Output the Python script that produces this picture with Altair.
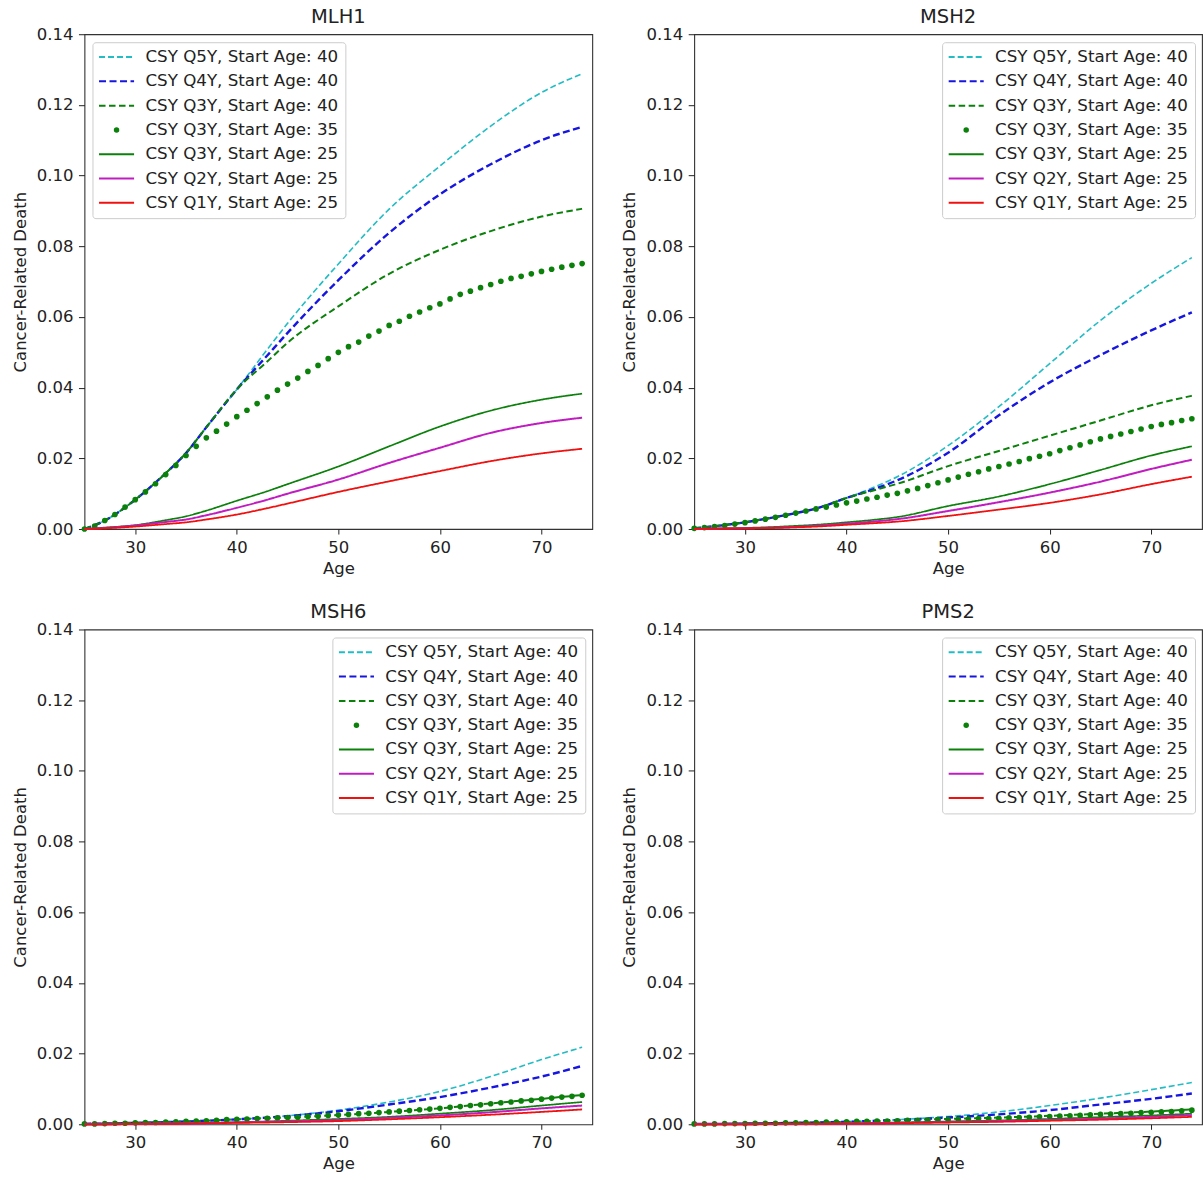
import altair as alt
import pandas as pd

GENES = ["MLH1", "MSH2", "MSH6", "PMS2"]
LEGEND_ORIENT = ["top-left", "top-right", "top-right", "top-right"]
SERIES = [
    "CSY Q5Y, Start Age: 40",
    "CSY Q4Y, Start Age: 40",
    "CSY Q3Y, Start Age: 40",
    "CSY Q3Y, Start Age: 35",
    "CSY Q3Y, Start Age: 25",
    "CSY Q2Y, Start Age: 25",
    "CSY Q1Y, Start Age: 25",
]
COLORS = ["#22bcc4", "#1616e0", "#0b800b", "#0b800b", "#0b800b", "#c01cc0", "#f01010"]
DASHES = [[6, 3], [7, 3.5], [6.5, 3.5], [1, 0], [1, 0], [1, 0], [1, 0]]
WIDTHS = [1.6, 2.4, 2.0, 0, 1.7, 2.0, 1.8]
DOT_INDEX = 3
LINE_SYMBOL = "M-6.4,0L6.4,0"

STROKES = [c if i != DOT_INDEX else "transparent" for i, c in enumerate(COLORS)]
FILLS = [c if i == DOT_INDEX else "transparent" for i, c in enumerate(COLORS)]
SHAPES = ["circle" if i == DOT_INDEX else LINE_SYMBOL for i in range(len(SERIES))]

X_TICKS = [30, 40, 50, 60, 70]
Y_TICKS = [0.0, 0.02, 0.04, 0.06, 0.08, 0.10, 0.12, 0.14]

LINE_AGES = [25, 27, 30, 33, 35, 37, 40, 43, 45, 50, 55, 60, 65, 70, 74]
DOT_AGES = list(range(25, 75))

# ---------------- MLH1 ----------------
MLH1_Q5Y_40 = [0, 0.0024, 0.0083, 0.0158, 0.0215, 0.0288, 0.0395, 0.0508, 0.0582, 0.0750, 0.0905, 0.1027, 0.1140, 0.1235, 0.1288]
MLH1_Q4Y_40 = [0, 0.0024, 0.0083, 0.0158, 0.0215, 0.0288, 0.0395, 0.0491, 0.0555, 0.0704, 0.0838, 0.0947, 0.1032, 0.1100, 0.1138]
MLH1_Q3Y_40 = [0, 0.0024, 0.0083, 0.0158, 0.0215, 0.0288, 0.0395, 0.0474, 0.0527, 0.0630, 0.0722, 0.0790, 0.0843, 0.0884, 0.0906]
MLH1_Q3Y_35 = [0.0000, 0.0008, 0.0024, 0.0041, 0.0062, 0.0083, 0.0105, 0.0128, 0.0154, 0.0180,
               0.0208, 0.0234, 0.0258, 0.0277, 0.0297, 0.0318, 0.0336, 0.0355, 0.0374, 0.0393,
               0.0410, 0.0427, 0.0446, 0.0463, 0.0482, 0.0500, 0.0516, 0.0529, 0.0546, 0.0560,
               0.0576, 0.0588, 0.0602, 0.0614, 0.0626, 0.0637, 0.0651, 0.0664, 0.0673, 0.0683,
               0.0692, 0.0701, 0.0709, 0.0715, 0.0722, 0.0729, 0.0735, 0.0741, 0.0746, 0.0751]
MLH1_Q3Y_25 = [0, 0.0004, 0.0011, 0.0025, 0.0036, 0.0052, 0.0080, 0.0107, 0.0127, 0.0177, 0.0234, 0.0290, 0.0335, 0.0366, 0.0383]
MLH1_Q2Y_25 = [0, 0.0003, 0.0010, 0.0020, 0.0027, 0.0039, 0.0060, 0.0083, 0.0100, 0.0140, 0.0187, 0.0230, 0.0272, 0.0300, 0.0315]
MLH1_Q1Y_25 = [0, 0.0002, 0.0007, 0.0014, 0.0019, 0.0027, 0.0041, 0.0059, 0.0072, 0.0105, 0.0135, 0.0164, 0.0192, 0.0214, 0.0227]

# ---------------- MSH2 ----------------
MSH2_Q5Y_40 = [0.0002, 0.0008, 0.0019, 0.0034, 0.0045, 0.0058, 0.0088, 0.0122, 0.0148, 0.0236, 0.0346, 0.0468, 0.0590, 0.0695, 0.0768]
MSH2_Q4Y_40 = [0.0002, 0.0008, 0.0019, 0.0034, 0.0045, 0.0058, 0.0088, 0.0116, 0.0138, 0.0216, 0.0322, 0.0415, 0.0492, 0.0562, 0.0613]
MSH2_Q3Y_40 = [0.0002, 0.0008, 0.0019, 0.0034, 0.0045, 0.0058, 0.0088, 0.0112, 0.0128, 0.0178, 0.0221, 0.0264, 0.0307, 0.0350, 0.0377]
MSH2_Q3Y_35 = [0.0002, 0.0004, 0.0007, 0.0010, 0.0014, 0.0018, 0.0023, 0.0028, 0.0033, 0.0039,
               0.0045, 0.0051, 0.0057, 0.0062, 0.0068, 0.0074, 0.0079, 0.0085, 0.0090, 0.0096,
               0.0101, 0.0108, 0.0115, 0.0123, 0.0131, 0.0139, 0.0147, 0.0155, 0.0162, 0.0170,
               0.0177, 0.0184, 0.0191, 0.0199, 0.0206, 0.0213, 0.0222, 0.0230, 0.0238, 0.0247,
               0.0255, 0.0262, 0.0269, 0.0276, 0.0283, 0.0290, 0.0296, 0.0301, 0.0307, 0.0312]
MSH2_Q3Y_25 = [0, 0.0001, 0.0003, 0.0006, 0.0009, 0.0012, 0.0019, 0.0027, 0.0034, 0.0065, 0.0092, 0.0127, 0.0167, 0.0208, 0.0234]
MSH2_Q2Y_25 = [0, 0.0001, 0.0002, 0.0004, 0.0006, 0.0009, 0.0015, 0.0022, 0.0028, 0.0051, 0.0076, 0.0103, 0.0134, 0.0170, 0.0196]
MSH2_Q1Y_25 = [0, 0.0001, 0.0002, 0.0003, 0.0005, 0.0007, 0.0012, 0.0017, 0.0021, 0.0037, 0.0055, 0.0074, 0.0098, 0.0127, 0.0148]

# ---------------- MSH6 ----------------
MSH6_Q5Y_40 = [0.0001, 0.0002, 0.0004, 0.0006, 0.0008, 0.0010, 0.0014, 0.0019, 0.0024, 0.0040, 0.0063, 0.0093, 0.0135, 0.0183, 0.0218]
MSH6_Q4Y_40 = [0.0001, 0.0002, 0.0004, 0.0006, 0.0008, 0.0010, 0.0014, 0.0019, 0.0023, 0.0037, 0.0056, 0.0077, 0.0104, 0.0135, 0.0165]
MSH6_Q3Y_40 = [0.0001, 0.0002, 0.0004, 0.0006, 0.0008, 0.0010, 0.0014, 0.0017, 0.0019, 0.0026, 0.0035, 0.0045, 0.0059, 0.0072, 0.0083]
MSH6_Q3Y_35 = [0.0001, 0.0001, 0.0002, 0.0003, 0.0003, 0.0004, 0.0005, 0.0005, 0.0006, 0.0007,
               0.0008, 0.0009, 0.0010, 0.0011, 0.0013, 0.0014, 0.0015, 0.0016, 0.0017, 0.0018,
               0.0019, 0.0020, 0.0022, 0.0023, 0.0025, 0.0026, 0.0028, 0.0030, 0.0031, 0.0033,
               0.0035, 0.0037, 0.0039, 0.0041, 0.0043, 0.0045, 0.0048, 0.0050, 0.0053, 0.0055,
               0.0058, 0.0061, 0.0063, 0.0066, 0.0068, 0.0071, 0.0074, 0.0077, 0.0079, 0.0082]
MSH6_Q3Y_25 = [0, 0, 0.0001, 0.0002, 0.0003, 0.0004, 0.0006, 0.0008, 0.0010, 0.0015, 0.0021, 0.0030, 0.0040, 0.0053, 0.0063]
MSH6_Q2Y_25 = [0, 0, 0.0001, 0.0002, 0.0002, 0.0003, 0.0005, 0.0007, 0.0008, 0.0012, 0.0018, 0.0025, 0.0034, 0.0045, 0.0053]
MSH6_Q1Y_25 = [0, 0, 0.0001, 0.0001, 0.0002, 0.0003, 0.0004, 0.0005, 0.0006, 0.0009, 0.0014, 0.0020, 0.0027, 0.0035, 0.0042]

# ---------------- PMS2 ----------------
PMS2_Q5Y_40 = [0.0001, 0.0001, 0.0002, 0.0003, 0.0004, 0.0005, 0.0007, 0.0010, 0.0013, 0.0022, 0.0035, 0.0053, 0.0074, 0.0098, 0.0118]
PMS2_Q4Y_40 = [0.0001, 0.0001, 0.0002, 0.0003, 0.0004, 0.0005, 0.0007, 0.0010, 0.0012, 0.0019, 0.0028, 0.0040, 0.0056, 0.0072, 0.0087]
PMS2_Q3Y_40 = [0.0001, 0.0001, 0.0002, 0.0003, 0.0004, 0.0005, 0.0007, 0.0009, 0.0011, 0.0015, 0.0019, 0.0024, 0.0030, 0.0036, 0.0042]
PMS2_Q3Y_35 = [0.0001, 0.0001, 0.0001, 0.0002, 0.0002, 0.0002, 0.0003, 0.0003, 0.0003, 0.0004,
               0.0004, 0.0005, 0.0005, 0.0006, 0.0006, 0.0007, 0.0008, 0.0008, 0.0009, 0.0009,
               0.0010, 0.0011, 0.0011, 0.0012, 0.0013, 0.0013, 0.0014, 0.0015, 0.0016, 0.0016,
               0.0017, 0.0018, 0.0019, 0.0020, 0.0021, 0.0022, 0.0023, 0.0024, 0.0025, 0.0027,
               0.0028, 0.0029, 0.0030, 0.0031, 0.0033, 0.0034, 0.0035, 0.0036, 0.0038, 0.0040]
PMS2_Q3Y_25 = [0, 0, 0.0001, 0.0001, 0.0002, 0.0002, 0.0003, 0.0004, 0.0005, 0.0008, 0.0011, 0.0015, 0.0020, 0.0025, 0.0030]
PMS2_Q2Y_25 = [0, 0, 0, 0.0001, 0.0001, 0.0001, 0.0002, 0.0003, 0.0004, 0.0006, 0.0009, 0.0012, 0.0016, 0.0021, 0.0026]
PMS2_Q1Y_25 = [0, 0, 0, 0.0001, 0.0001, 0.0001, 0.0002, 0.0002, 0.0003, 0.0005, 0.0007, 0.0010, 0.0013, 0.0017, 0.0021]

GENE_SERIES = {
    "MLH1": [MLH1_Q5Y_40, MLH1_Q4Y_40, MLH1_Q3Y_40, MLH1_Q3Y_35, MLH1_Q3Y_25, MLH1_Q2Y_25, MLH1_Q1Y_25],
    "MSH2": [MSH2_Q5Y_40, MSH2_Q4Y_40, MSH2_Q3Y_40, MSH2_Q3Y_35, MSH2_Q3Y_25, MSH2_Q2Y_25, MSH2_Q1Y_25],
    "MSH6": [MSH6_Q5Y_40, MSH6_Q4Y_40, MSH6_Q3Y_40, MSH6_Q3Y_35, MSH6_Q3Y_25, MSH6_Q2Y_25, MSH6_Q1Y_25],
    "PMS2": [PMS2_Q5Y_40, PMS2_Q4Y_40, PMS2_Q3Y_40, PMS2_Q3Y_35, PMS2_Q3Y_25, PMS2_Q2Y_25, PMS2_Q1Y_25],
}

FONT = "DejaVu Sans"
TEXT = "#222222"


def make_legend(orient):
    return alt.Legend(
        title=None,
        orient=orient,
        offset=7.5,
        padding=6.5,
        symbolSize=30,
        symbolOffset=9.25,
        symbolStrokeWidth=2,
        symbolOpacity=1,
        labelFontSize=16.7,
        labelFont=FONT,
        labelColor=TEXT,
        labelLimit=400,
        labelOffset=20.5,
        rowPadding=6.3,
        fillColor="white",
        strokeColor="#cccccc",
        cornerRadius=3,
    )


def panel(gene, orient):
    rows = []
    for i, (s, vals) in enumerate(zip(SERIES, GENE_SERIES[gene])):
        ages = DOT_AGES if i == DOT_INDEX else LINE_AGES
        for a, v in zip(ages, vals):
            rows.append({"series": s, "age": a, "value": v})
    df = pd.DataFrame(rows)

    leg = make_legend(orient)
    x = alt.X("age:Q",
              scale=alt.Scale(domain=[25, 75], nice=False, zero=False),
              axis=alt.Axis(title="Age", values=X_TICKS, format="d"))
    y = alt.Y("value:Q",
              scale=alt.Scale(domain=[0, 0.14], nice=False),
              axis=alt.Axis(title="Cancer-Related Death", values=Y_TICKS, format=".2f",
                            titlePadding=8, labelPadding=5.5, tickSize=6))
    stroke = alt.Stroke("series:N", scale=alt.Scale(domain=SERIES, range=STROKES), legend=leg)
    dash = alt.StrokeDash("series:N", scale=alt.Scale(domain=SERIES, range=DASHES), legend=leg)
    fill = alt.Fill("series:N", scale=alt.Scale(domain=SERIES, range=FILLS), legend=leg)
    shape = alt.Shape("series:N", scale=alt.Scale(domain=SERIES, range=SHAPES), legend=leg)

    layers = []
    for i, s in enumerate(SERIES):
        base = alt.Chart(df).transform_filter(alt.datum.series == s)
        if i == DOT_INDEX:
            m = base.mark_point(filled=True, size=32, opacity=1).encode(x=x, y=y, fill=fill, shape=shape)
        else:
            m = base.mark_line(interpolate="monotone", strokeWidth=WIDTHS[i]).encode(
                x=x, y=y, stroke=stroke, strokeDash=dash)
        layers.append(m)

    return alt.layer(*layers).properties(
        width=508,
        height=495,
        title=alt.TitleParams(text=gene, fontSize=19.5, font=FONT, fontWeight="normal",
                              color=TEXT, anchor="middle", offset=-1),
    )


panels = [panel(g, o) for g, o in zip(GENES, LEGEND_ORIENT)]

chart = (
    alt.concat(*panels, columns=2, spacing={"column": 28, "row": 22.5})
    .resolve_scale(stroke="independent", fill="independent", shape="independent", strokeDash="independent")
    .resolve_legend(stroke="independent", fill="independent", shape="independent", strokeDash="independent")
    .properties(padding={"left": 11.5, "top": 5, "right": 0, "bottom": 0})
    .configure(font=FONT)
    .configure_view(stroke="#333333", strokeWidth=1.1)
    .configure_axis(
        domain=False,
        grid=False,
        ticks=True,
        tickColor=TEXT,
        tickSize=5,
        tickWidth=1,
        labelFont=FONT,
        labelFontSize=16.5,
        labelColor=TEXT,
        labelPadding=5,
        titleFont=FONT,
        titleFontSize=16.5,
        titleFontWeight="normal",
        titleColor=TEXT,
        titlePadding=5,
    )
)

chart.save("out.html", embed_options={"renderer": "svg", "actions": False})
